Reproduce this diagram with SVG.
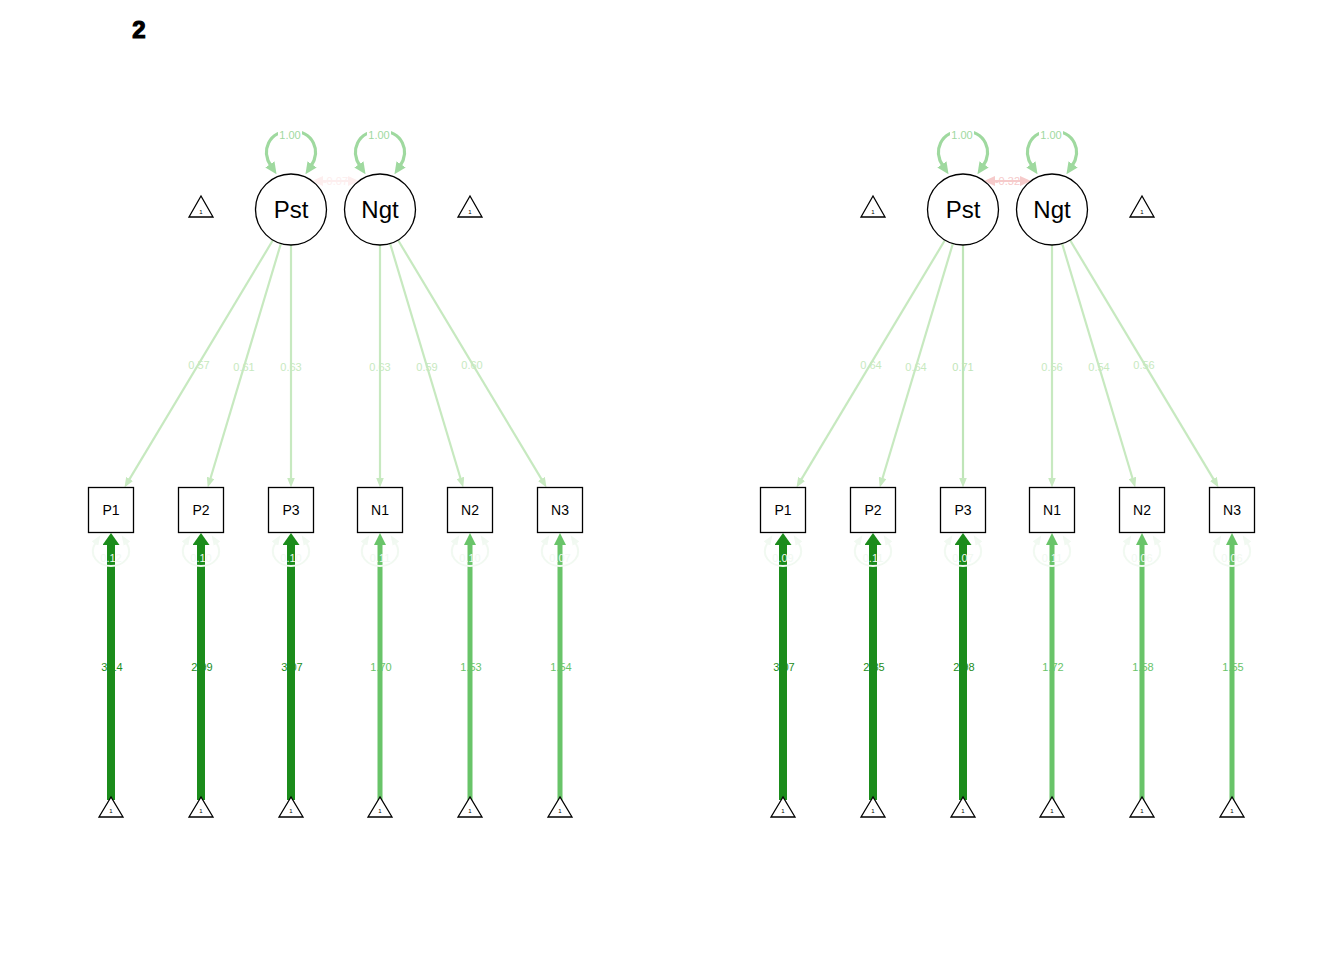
<svg xmlns="http://www.w3.org/2000/svg" width="1344" height="960" viewBox="0 0 1344 960">
<style>
text{font-family:"Liberation Sans",Arial,sans-serif;text-anchor:middle}
.lat{font-size:24px;fill:#000}
.man{font-size:14px;fill:#000}
.one{font-size:6px;fill:#000}
.lbl{font-size:11px}
.node{fill:#fff;stroke:#000;stroke-width:1.3}
.load{stroke:#c7e9c0;stroke-width:2.2;fill:none}
.var{stroke:#9fd99f;stroke-width:3.2;fill:none}
.res{stroke:#f1f9f1;stroke-width:2;fill:none}
.intP{stroke:#1b8c1b;stroke-width:8;fill:none}
.intN{stroke:#69c469;stroke-width:5;fill:none}
.bg{fill:#fff}
.tLoad{fill:#c7e9c0}
.tVar{fill:#9fd99f}
.tRes{fill:#f1f9f1}
.tP{fill:#1b8c1b}
.tN{fill:#69c469}
</style>
<defs>
<marker id="mLoad" markerUnits="userSpaceOnUse" markerWidth="10" markerHeight="8" refX="2" refY="4" orient="auto"><path d="M0,0 L10,4 L0,8 z" fill="#c7e9c0"/></marker>
<marker id="mVar" markerUnits="userSpaceOnUse" markerWidth="12" markerHeight="11" refX="2" refY="5.5" orient="auto-start-reverse"><path d="M0,0 L12,5.5 L0,11 z" fill="#9fd99f"/></marker>
<marker id="mRes" markerUnits="userSpaceOnUse" markerWidth="10" markerHeight="8" refX="2" refY="4" orient="auto-start-reverse"><path d="M0,0 L10,4 L0,8 z" fill="#f1f9f1"/></marker>
<marker id="mCovL" markerUnits="userSpaceOnUse" markerWidth="11" markerHeight="10" refX="2" refY="5" orient="auto-start-reverse"><path d="M0,0 L11,5 L0,10 z" fill="#fdeeee"/></marker>
<marker id="mCovR" markerUnits="userSpaceOnUse" markerWidth="11" markerHeight="10" refX="2" refY="5" orient="auto-start-reverse"><path d="M0,0 L11,5 L0,10 z" fill="#f6caca"/></marker>
<marker id="mIntP" markerUnits="userSpaceOnUse" markerWidth="12" markerHeight="17" refX="1" refY="8.5" orient="auto"><path d="M0,0 L12,8.5 L0,17 z" fill="#1b8c1b"/></marker>
<marker id="mIntN" markerUnits="userSpaceOnUse" markerWidth="12" markerHeight="12" refX="1" refY="6" orient="auto"><path d="M0,0 L12,6 L0,12 z" fill="#69c469"/></marker>
</defs>
<rect width="1344" height="960" fill="#fff"/>
<text x="139" y="38" style="font-size:24px;font-weight:bold" stroke="#000" stroke-width="1.2">2</text>

<!-- LEFT PANEL -->
<g id="left-panel">
<g id="L-connectors">
<path class="load" d="M273 240 L128.6 480.6" marker-end="url(#mLoad)"/>
<path class="load" d="M280.9 243.5 L210.05 479.8" marker-end="url(#mLoad)"/>
<path class="load" d="M291 245 L291 479.5" marker-end="url(#mLoad)"/>
<path class="load" d="M380 245 L380 479.5" marker-end="url(#mLoad)"/>
<path class="load" d="M390.1 243.5 L460.95 479.8" marker-end="url(#mLoad)"/>
<path class="load" d="M398 240 L542.4 480.6" marker-end="url(#mLoad)"/>
<path class="var" d="M271 166 C261 151 268 131 291 131 C314 131 321 151 311 166" marker-start="url(#mVar)" marker-end="url(#mVar)"/>
<path class="var" d="M360 166 C350 151 357 131 380 131 C403 131 410 151 400 166" marker-start="url(#mVar)" marker-end="url(#mVar)"/>
<path d="M321 181 L350 181" stroke="#fdeeee" stroke-width="2" marker-start="url(#mCovL)" marker-end="url(#mCovL)"/>
<path class="intP" d="M111 800 L111 544" marker-end="url(#mIntP)"/>
<path class="intP" d="M201 800 L201 544" marker-end="url(#mIntP)"/>
<path class="intP" d="M291 800 L291 544" marker-end="url(#mIntP)"/>
<path class="intN" d="M380 800 L380 544" marker-end="url(#mIntN)"/>
<path class="intN" d="M470 800 L470 544" marker-end="url(#mIntN)"/>
<path class="intN" d="M560 800 L560 544" marker-end="url(#mIntN)"/>
<path class="res" d="M96 542 C87 556 99 566 111 566 C123 566 135 556 126 542" marker-start="url(#mRes)" marker-end="url(#mRes)"/>
<path class="res" d="M186 542 C177 556 189 566 201 566 C213 566 225 556 216 542" marker-start="url(#mRes)" marker-end="url(#mRes)"/>
<path class="res" d="M276 542 C267 556 279 566 291 566 C303 566 315 556 306 542" marker-start="url(#mRes)" marker-end="url(#mRes)"/>
<path class="res" d="M365 542 C356 556 368 566 380 566 C392 566 404 556 395 542" marker-start="url(#mRes)" marker-end="url(#mRes)"/>
<path class="res" d="M455 542 C446 556 458 566 470 566 C482 566 494 556 485 542" marker-start="url(#mRes)" marker-end="url(#mRes)"/>
<path class="res" d="M545 542 C536 556 548 566 560 566 C572 566 584 556 575 542" marker-start="url(#mRes)" marker-end="url(#mRes)"/>
<text class="lbl tLoad" x="199" y="369">0.57</text>
<text class="lbl tLoad" x="244" y="371">0.61</text>
<text class="lbl tLoad" x="291" y="371">0.63</text>
<text class="lbl tLoad" x="380" y="371">0.63</text>
<text class="lbl tLoad" x="427" y="371">0.59</text>
<text class="lbl tLoad" x="472" y="369">0.60</text>
<rect class="bg" x="278" y="127" width="24" height="12"/>
<rect class="bg" x="367" y="127" width="24" height="12"/>
<text class="lbl tVar" x="290" y="139">1.00</text>
<text class="lbl tVar" x="379" y="139">1.00</text>
<text class="lbl" x="335.5" y="185" fill="#fdeeee">-0.07</text>
<text class="lbl tP" x="112" y="671">3.14</text>
<text class="lbl tP" x="202" y="671">2.99</text>
<text class="lbl tP" x="292" y="671">3.07</text>
<text class="lbl tN" x="381" y="671">1.70</text>
<text class="lbl tN" x="471" y="671">1.53</text>
<text class="lbl tN" x="561" y="671">1.54</text>
<text class="lbl tRes" x="111" y="562">0.12</text>
<text class="lbl tRes" x="201" y="562">0.10</text>
<text class="lbl tRes" x="291" y="562">0.10</text>
<text class="lbl tRes" x="380" y="562">0.11</text>
<text class="lbl tRes" x="470" y="562">0.10</text>
<text class="lbl tRes" x="560" y="562">0.07</text>
</g>
<g id="L-Pst"><circle class="node" cx="291" cy="209.5" r="35.5"/><text class="lat" x="291" y="218">Pst</text></g>
<g id="L-Ngt"><circle class="node" cx="380" cy="209.5" r="35.5"/><text class="lat" x="380" y="218">Ngt</text></g>
<g id="L-intPst"><polygon class="node" points="201,196 189,217 213,217"/><text class="one" x="201" y="214">1</text></g>
<g id="L-intNgt"><polygon class="node" points="470,196 458,217 482,217"/><text class="one" x="470" y="214">1</text></g>
<g id="L-P1"><rect class="node" x="88.5" y="487.5" width="45" height="45"/><text class="man" x="111" y="515">P1</text></g>
<g id="L-P2"><rect class="node" x="178.5" y="487.5" width="45" height="45"/><text class="man" x="201" y="515">P2</text></g>
<g id="L-P3"><rect class="node" x="268.5" y="487.5" width="45" height="45"/><text class="man" x="291" y="515">P3</text></g>
<g id="L-N1"><rect class="node" x="357.5" y="487.5" width="45" height="45"/><text class="man" x="380" y="515">N1</text></g>
<g id="L-N2"><rect class="node" x="447.5" y="487.5" width="45" height="45"/><text class="man" x="470" y="515">N2</text></g>
<g id="L-N3"><rect class="node" x="537.5" y="487.5" width="45" height="45"/><text class="man" x="560" y="515">N3</text></g>
<g id="L-iP1"><polygon class="node" points="111,797 99,817 123,817"/><text class="one" x="111" y="813">1</text></g>
<g id="L-iP2"><polygon class="node" points="201,797 189,817 213,817"/><text class="one" x="201" y="813">1</text></g>
<g id="L-iP3"><polygon class="node" points="291,797 279,817 303,817"/><text class="one" x="291" y="813">1</text></g>
<g id="L-iN1"><polygon class="node" points="380,797 368,817 392,817"/><text class="one" x="380" y="813">1</text></g>
<g id="L-iN2"><polygon class="node" points="470,797 458,817 482,817"/><text class="one" x="470" y="813">1</text></g>
<g id="L-iN3"><polygon class="node" points="560,797 548,817 572,817"/><text class="one" x="560" y="813">1</text></g>
</g>

<!-- RIGHT PANEL -->
<g id="right-panel" transform="translate(672,0)">
<g id="R-connectors">
<path class="load" d="M273 240 L128.6 480.6" marker-end="url(#mLoad)"/>
<path class="load" d="M280.9 243.5 L210.05 479.8" marker-end="url(#mLoad)"/>
<path class="load" d="M291 245 L291 479.5" marker-end="url(#mLoad)" style="stroke:#bfe5b8"/>
<path class="load" d="M380 245 L380 479.5" marker-end="url(#mLoad)"/>
<path class="load" d="M390.1 243.5 L460.95 479.8" marker-end="url(#mLoad)"/>
<path class="load" d="M398 240 L542.4 480.6" marker-end="url(#mLoad)"/>
<path class="var" d="M271 166 C261 151 268 131 291 131 C314 131 321 151 311 166" marker-start="url(#mVar)" marker-end="url(#mVar)"/>
<path class="var" d="M360 166 C350 151 357 131 380 131 C403 131 410 151 400 166" marker-start="url(#mVar)" marker-end="url(#mVar)"/>
<path d="M321 181 L350 181" stroke="#f6caca" stroke-width="2" marker-start="url(#mCovR)" marker-end="url(#mCovR)"/>
<path class="intP" d="M111 800 L111 544" marker-end="url(#mIntP)"/>
<path class="intP" d="M201 800 L201 544" marker-end="url(#mIntP)"/>
<path class="intP" d="M291 800 L291 544" marker-end="url(#mIntP)"/>
<path class="intN" d="M380 800 L380 544" marker-end="url(#mIntN)"/>
<path class="intN" d="M470 800 L470 544" marker-end="url(#mIntN)"/>
<path class="intN" d="M560 800 L560 544" marker-end="url(#mIntN)"/>
<path class="res" d="M96 542 C87 556 99 566 111 566 C123 566 135 556 126 542" marker-start="url(#mRes)" marker-end="url(#mRes)"/>
<path class="res" d="M186 542 C177 556 189 566 201 566 C213 566 225 556 216 542" marker-start="url(#mRes)" marker-end="url(#mRes)"/>
<path class="res" d="M276 542 C267 556 279 566 291 566 C303 566 315 556 306 542" marker-start="url(#mRes)" marker-end="url(#mRes)"/>
<path class="res" d="M365 542 C356 556 368 566 380 566 C392 566 404 556 395 542" marker-start="url(#mRes)" marker-end="url(#mRes)"/>
<path class="res" d="M455 542 C446 556 458 566 470 566 C482 566 494 556 485 542" marker-start="url(#mRes)" marker-end="url(#mRes)"/>
<path class="res" d="M545 542 C536 556 548 566 560 566 C572 566 584 556 575 542" marker-start="url(#mRes)" marker-end="url(#mRes)"/>
<text class="lbl tLoad" x="199" y="369">0.64</text>
<text class="lbl tLoad" x="244" y="371">0.64</text>
<text class="lbl tLoad" x="291" y="371" style="fill:#bfe5b8">0.71</text>
<text class="lbl tLoad" x="380" y="371">0.56</text>
<text class="lbl tLoad" x="427" y="371">0.54</text>
<text class="lbl tLoad" x="472" y="369">0.56</text>
<rect class="bg" x="278" y="127" width="24" height="12"/>
<rect class="bg" x="367" y="127" width="24" height="12"/>
<text class="lbl tVar" x="290" y="139">1.00</text>
<text class="lbl tVar" x="379" y="139">1.00</text>
<text class="lbl" x="335.5" y="185" fill="#f6caca">-0.32</text>
<text class="lbl tP" x="112" y="671">3.07</text>
<text class="lbl tP" x="202" y="671">2.85</text>
<text class="lbl tP" x="292" y="671">2.98</text>
<text class="lbl tN" x="381" y="671">1.72</text>
<text class="lbl tN" x="471" y="671">1.58</text>
<text class="lbl tN" x="561" y="671">1.55</text>
<text class="lbl tRes" x="111" y="562">0.09</text>
<text class="lbl tRes" x="201" y="562">0.11</text>
<text class="lbl tRes" x="291" y="562">0.07</text>
<text class="lbl tRes" x="380" y="562">0.11</text>
<text class="lbl tRes" x="470" y="562">0.06</text>
<text class="lbl tRes" x="560" y="562">0.06</text>
</g>
<g id="R-Pst"><circle class="node" cx="291" cy="209.5" r="35.5"/><text class="lat" x="291" y="218">Pst</text></g>
<g id="R-Ngt"><circle class="node" cx="380" cy="209.5" r="35.5"/><text class="lat" x="380" y="218">Ngt</text></g>
<g id="R-intPst"><polygon class="node" points="201,196 189,217 213,217"/><text class="one" x="201" y="214">1</text></g>
<g id="R-intNgt"><polygon class="node" points="470,196 458,217 482,217"/><text class="one" x="470" y="214">1</text></g>
<g id="R-P1"><rect class="node" x="88.5" y="487.5" width="45" height="45"/><text class="man" x="111" y="515">P1</text></g>
<g id="R-P2"><rect class="node" x="178.5" y="487.5" width="45" height="45"/><text class="man" x="201" y="515">P2</text></g>
<g id="R-P3"><rect class="node" x="268.5" y="487.5" width="45" height="45"/><text class="man" x="291" y="515">P3</text></g>
<g id="R-N1"><rect class="node" x="357.5" y="487.5" width="45" height="45"/><text class="man" x="380" y="515">N1</text></g>
<g id="R-N2"><rect class="node" x="447.5" y="487.5" width="45" height="45"/><text class="man" x="470" y="515">N2</text></g>
<g id="R-N3"><rect class="node" x="537.5" y="487.5" width="45" height="45"/><text class="man" x="560" y="515">N3</text></g>
<g id="R-iP1"><polygon class="node" points="111,797 99,817 123,817"/><text class="one" x="111" y="813">1</text></g>
<g id="R-iP2"><polygon class="node" points="201,797 189,817 213,817"/><text class="one" x="201" y="813">1</text></g>
<g id="R-iP3"><polygon class="node" points="291,797 279,817 303,817"/><text class="one" x="291" y="813">1</text></g>
<g id="R-iN1"><polygon class="node" points="380,797 368,817 392,817"/><text class="one" x="380" y="813">1</text></g>
<g id="R-iN2"><polygon class="node" points="470,797 458,817 482,817"/><text class="one" x="470" y="813">1</text></g>
<g id="R-iN3"><polygon class="node" points="560,797 548,817 572,817"/><text class="one" x="560" y="813">1</text></g>
</g>
</svg>
